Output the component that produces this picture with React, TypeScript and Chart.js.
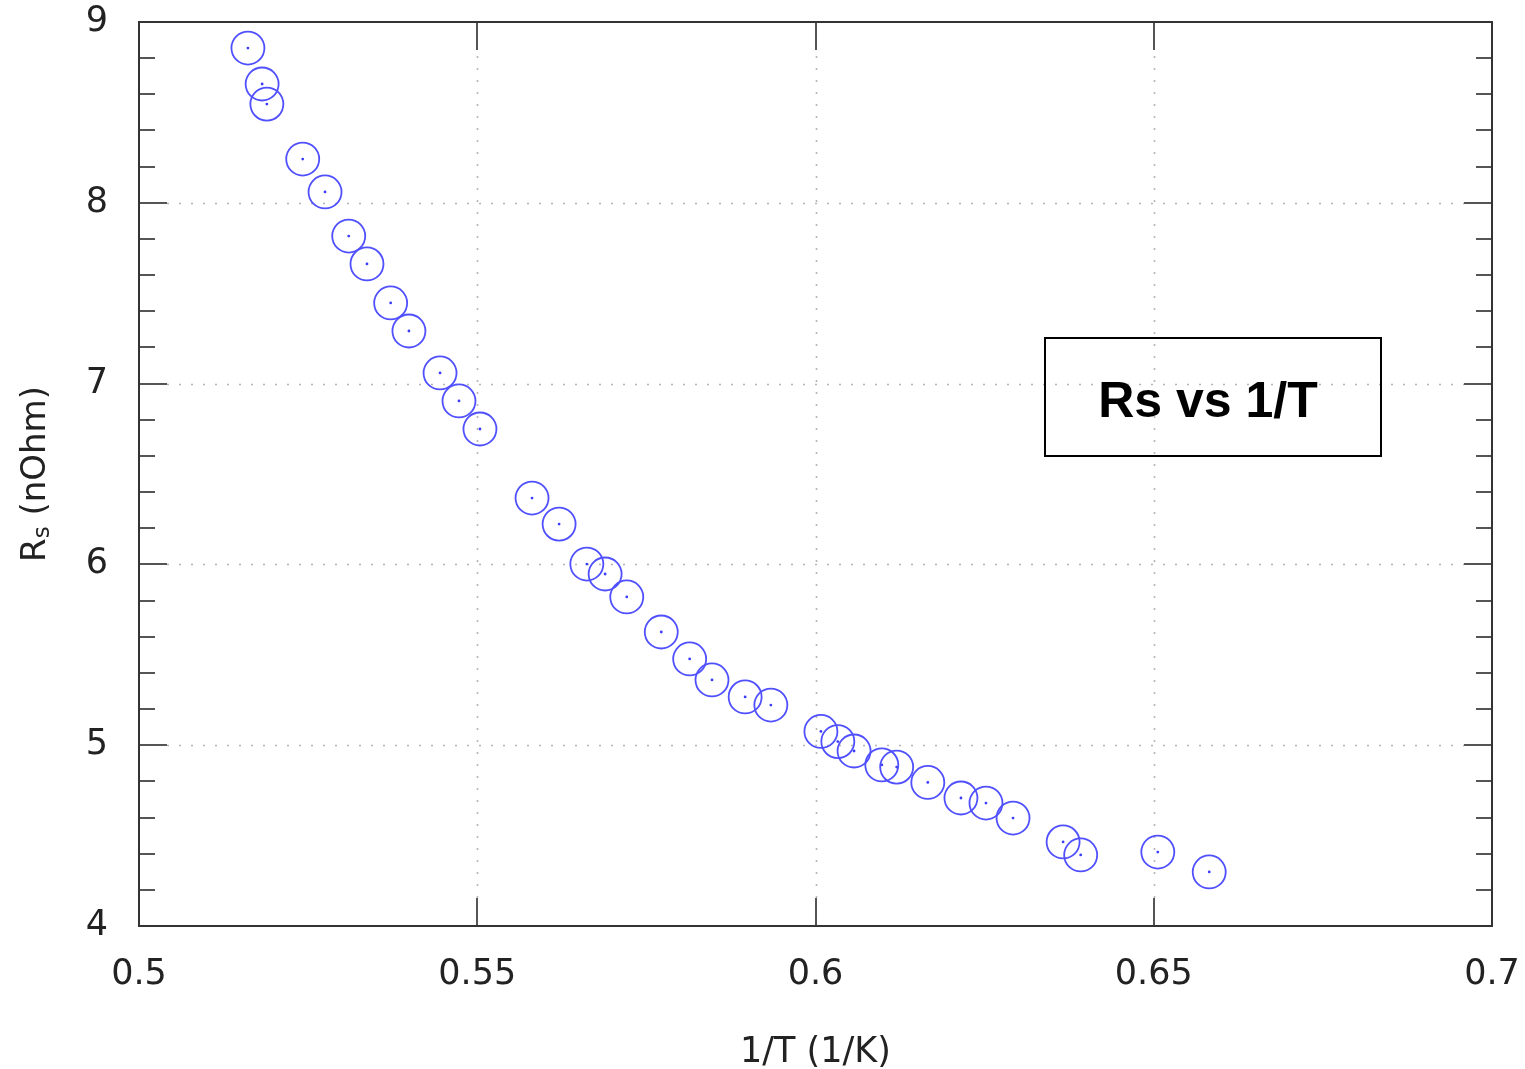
import React, { useEffect, useRef } from "react";
import { Chart, registerables } from "chart.js";

Chart.register(...registerables);

const xValues = [
  0.5161, 0.5182, 0.5189, 0.5242, 0.5275, 0.531, 0.5337, 0.5372, 0.5399, 0.5445,
  0.5473, 0.5504, 0.5581, 0.5621, 0.5662, 0.5689, 0.5721, 0.5772, 0.5814, 0.5847,
  0.5896, 0.5934, 0.6008, 0.6033, 0.6057, 0.6098, 0.612, 0.6166, 0.6215, 0.6252,
  0.6292, 0.6366, 0.6392, 0.6506, 0.6582,
];
const yValues = [
  8.856, 8.657, 8.546, 8.242, 8.06, 7.816, 7.662, 7.446, 7.291, 7.059,
  6.904, 6.749, 6.367, 6.223, 6.002, 5.947, 5.82, 5.626, 5.477, 5.361,
  5.267, 5.222, 5.076, 5.02, 4.968, 4.891, 4.879, 4.794, 4.708, 4.68,
  4.597, 4.465, 4.393, 4.409, 4.299,
];
const xTicks = [0.5, 0.55, 0.6, 0.65, 0.7];
const yTicks = [4, 5, 6, 7, 8, 9];
const yMinorTicks = [
  4.2, 4.4, 4.6, 4.8, 5.2, 5.4, 5.6, 5.8, 6.2, 6.4, 6.6, 6.8, 7.2, 7.4, 7.6, 7.8,
  8.2, 8.4, 8.6, 8.8,
];
const xTitle = "1/T (1/K)";
const yTitleMain = "R";
const yTitleSub = "s";
const yTitleRest = " (nOhm)";
const legendTitle = "Rs vs 1/T";

const FONT = "'DejaVu Sans', sans-serif";

const framePlugin = {
  id: "framePlugin",
  beforeDatasetsDraw(chart: any) {
    const ctx = chart.ctx;
    const { left, right, top, bottom } = chart.chartArea;
    const xs = chart.scales.x;
    const ys = chart.scales.y;
    ctx.save();
    ctx.strokeStyle = "#b5b5b5";
    ctx.lineWidth = 1.6;
    ctx.setLineDash([2, 10]);
    for (const v of xTicks) {
      if (v === xTicks[0] || v === xTicks[xTicks.length - 1]) continue;
      const px = Math.round(xs.getPixelForValue(v)) + 0.5;
      ctx.beginPath();
      ctx.moveTo(px, bottom - 28);
      ctx.lineTo(px, top + 28);
      ctx.stroke();
    }
    for (const v of yTicks) {
      if (v === yTicks[0] || v === yTicks[yTicks.length - 1]) continue;
      const py = Math.round(ys.getPixelForValue(v)) + 0.5;
      ctx.beginPath();
      ctx.moveTo(left + 28, py);
      ctx.lineTo(right - 28, py);
      ctx.stroke();
    }
    ctx.restore();
  },
  afterDatasetsDraw(chart: any) {
    const ctx = chart.ctx;
    const { left, right, top, bottom } = chart.chartArea;
    const xs = chart.scales.x;
    const ys = chart.scales.y;
    ctx.save();
    ctx.setLineDash([]);
    ctx.strokeStyle = "#555";
    ctx.lineWidth = 2;
    const major = 28;
    const minor = 16;
    for (const v of xTicks) {
      const px = Math.round(xs.getPixelForValue(v));
      ctx.beginPath();
      ctx.moveTo(px, bottom);
      ctx.lineTo(px, bottom - major);
      ctx.moveTo(px, top);
      ctx.lineTo(px, top + major);
      ctx.stroke();
    }
    for (const v of yTicks) {
      const py = Math.round(ys.getPixelForValue(v));
      ctx.beginPath();
      ctx.moveTo(left, py);
      ctx.lineTo(left + major, py);
      ctx.moveTo(right, py);
      ctx.lineTo(right - major, py);
      ctx.stroke();
    }
    for (const v of yMinorTicks) {
      const py = Math.round(ys.getPixelForValue(v));
      ctx.beginPath();
      ctx.moveTo(left, py);
      ctx.lineTo(left + minor, py);
      ctx.moveTo(right, py);
      ctx.lineTo(right - minor, py);
      ctx.stroke();
    }
    ctx.strokeStyle = "#333";
    ctx.lineWidth = 2;
    ctx.strokeRect(left, top, right - left, bottom - top);
    ctx.restore();
  },
  afterDraw(chart: any) {
    const ctx = chart.ctx;
    const { left, right, bottom } = chart.chartArea;
    ctx.save();
    // x title
    ctx.fillStyle = "#222";
    ctx.font = `35px ${FONT}`;
    ctx.textAlign = "center";
    ctx.textBaseline = "alphabetic";
    ctx.fillText(xTitle, (left + right) / 2, bottom + 136);

    // y title with subscript
    ctx.save();
    ctx.translate(45, 474);
    ctx.rotate(-Math.PI / 2);
    const mainFont = `34px ${FONT}`;
    const subFont = `23px ${FONT}`;
    ctx.font = mainFont;
    const wR = ctx.measureText(yTitleMain).width;
    const wRest = ctx.measureText(yTitleRest).width;
    ctx.font = subFont;
    const wS = ctx.measureText(yTitleSub).width;
    const total = wR + wS + wRest;
    let x0 = -total / 2;
    ctx.textAlign = "left";
    ctx.font = mainFont;
    ctx.fillText(yTitleMain, x0, 0);
    x0 += wR;
    ctx.font = subFont;
    ctx.fillText(yTitleSub, x0, 4);
    x0 += wS;
    ctx.font = mainFont;
    ctx.fillText(yTitleRest, x0, 0);
    ctx.restore();

    // legend box
    ctx.strokeStyle = "#000";
    ctx.lineWidth = 2;
    ctx.strokeRect(1045, 338, 336, 118);
    ctx.fillStyle = "#000";
    ctx.font = `bold 50px 'Liberation Sans', Arial, sans-serif`;
    ctx.textAlign = "center";
    ctx.textBaseline = "alphabetic";
    ctx.fillText(legendTitle, 1208, 417);
    ctx.restore();
  },
};

const zeroPad = (s: any) => {
  s.paddingTop = 0;
  s.paddingBottom = 0;
  s.paddingLeft = 0;
  s.paddingRight = 0;
};

export default function App() {
  const ref = useRef<HTMLCanvasElement | null>(null);
  useEffect(() => {
    if (!ref.current) return;
    const pts = xValues.map((x, i) => ({ x, y: yValues[i] }));
    const chart = new Chart(ref.current, {
      type: "scatter",
      data: {
        datasets: [
          {
            label: legendTitle,
            data: pts,
            pointStyle: "circle",
            pointRadius: 16.5,
            pointHoverRadius: 16.5,
            pointBorderWidth: 1.8,
            borderColor: "rgb(80,80,255)",
            backgroundColor: "rgba(0,0,0,0)",
            showLine: false,
          },
          {
            label: "centers",
            data: pts,
            pointStyle: "circle",
            pointRadius: 1.4,
            pointHoverRadius: 1.4,
            pointBorderWidth: 0,
            borderColor: "rgb(60,60,255)",
            backgroundColor: "rgb(60,60,255)",
            showLine: false,
          },
        ],
      },
      options: {
        responsive: false,
        animation: false,
        layout: { padding: { top: 22, right: 33, left: 0, bottom: 0 } },
        plugins: { legend: { display: false }, tooltip: { enabled: false } },
        scales: {
          x: {
            type: "linear",
            min: 0.5,
            max: 0.7,
            afterFit: (s: any) => {
              s.height = 143;
              zeroPad(s);
            },
            afterBuildTicks: (s: any) => {
              s.ticks = xTicks.map((v) => ({ value: v }));
            },
            grid: { display: false, drawTicks: false },
            border: { display: false },
            ticks: {
              padding: 28,
              color: "#222",
              font: { family: FONT, size: 35 },
              maxRotation: 0,
              autoSkip: false,
              callback: (v: any) => String(Number(v)),
            },
          },
          y: {
            type: "linear",
            min: 4,
            max: 9,
            afterFit: (s: any) => {
              s.width = 139;
              zeroPad(s);
            },
            afterBuildTicks: (s: any) => {
              s.ticks = yTicks.map((v) => ({ value: v }));
            },
            grid: { display: false, drawTicks: false },
            border: { display: false },
            ticks: {
              padding: 31,
              color: "#222",
              font: { family: FONT, size: 35 },
              autoSkip: false,
              callback: (v: any) => String(Number(v)),
            },
          },
        },
      },
      plugins: [framePlugin],
    });
    return () => chart.destroy();
  }, []);
  return (
    <div style={{ position: "absolute", left: 0, top: 0, width: 1525, height: 1069, background: "#fff" }}>
      <canvas ref={ref} width={1525} height={1069} style={{ display: "block" }} />
    </div>
  );
}
